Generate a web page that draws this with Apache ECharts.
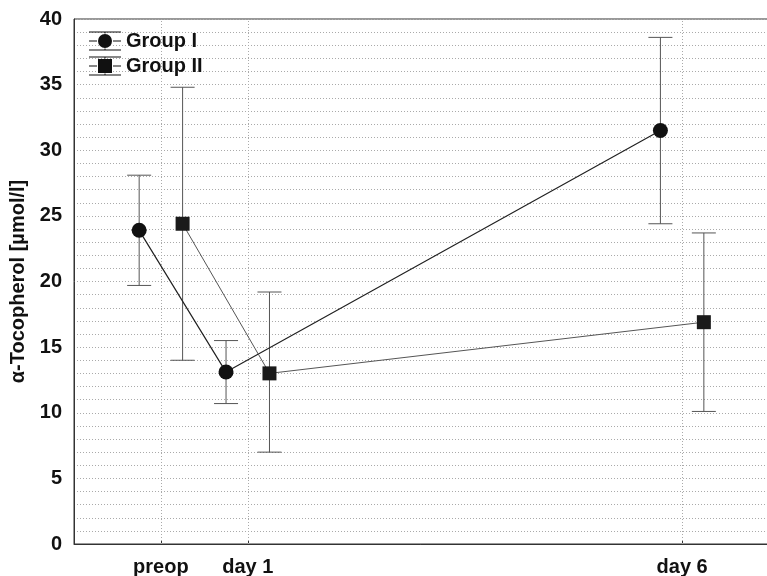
<!DOCTYPE html>
<html>
<head>
<meta charset="utf-8">
<script src="https://cdn.jsdelivr.net/npm/echarts@6/dist/echarts.min.js"></script>
<style>
  html, body { margin: 0; padding: 0; background: #fff; }
  #chart { width: 767px; height: 576px; }
</style>
</head>
<body>
<div id="chart"></div>
<script>
// time points (preop = 0, day 1 = 1, day 6 = 6)
var timeNames = ['preop', 'day 1', 'day 6'];
var timeValues = [0, 1, 6];

var group1Mean = [23.9, 13.1, 31.5];
var group1Low = [19.7, 10.7, 24.4];
var group1High = [28.1, 15.5, 38.6];

var group2Mean = [24.4, 13.0, 16.9];
var group2Low = [14.0, 7.0, 10.1];
var group2High = [34.8, 19.2, 23.7];

var SHIFT = 0.25; // groups drawn side by side

var chart = echarts.init(document.getElementById('chart'));

function pts(mean, off) {
  return mean.map(function(v, i) { return [timeValues[i] + off, v]; });
}
function bars(low, high, off) {
  return low.map(function(v, i) { return [timeValues[i] + off, v, high[i]]; });
}

function renderBar(params, api) {
  var lo = api.coord([api.value(0), api.value(1)]);
  var hi = api.coord([api.value(0), api.value(2)]);
  var w = 12;
  var st = { stroke: '#555', lineWidth: 1 };
  return {
    type: 'group',
    children: [
      { type: 'line', shape: { x1: lo[0], y1: lo[1], x2: hi[0], y2: hi[1] }, style: st },
      { type: 'line', shape: { x1: lo[0] - w, y1: lo[1], x2: lo[0] + w, y2: lo[1] }, style: st },
      { type: 'line', shape: { x1: hi[0] - w, y1: hi[1], x2: hi[0] + w, y2: hi[1] }, style: st }
    ]
  };
}

// legend icon: marker with error bar and caps
var bar = 'M0,0H32V1H0Z M0,18H32V19H0Z M0,9H8V10H0Z M24,9H32V10H24Z M15.5,0H16.5V2H15.5Z M15.5,17H16.5V19H15.5Z ';
var iconCircle = 'path://' + bar + 'M9,9.5A7,7 0 1,0 23,9.5A7,7 0 1,0 9,9.5Z';
var iconSquare = 'path://' + bar + 'M9,2.5H23V16.5H9Z';

var font = 'Liberation Sans, Arial, sans-serif';

chart.setOption({
  animation: false,
  backgroundColor: '#fff',
  grid: {
    left: 74, right: -2, top: 19, bottom: 32,
    outerBoundsMode: 'none',
    show: true, borderColor: '#333', borderWidth: 1, backgroundColor: 'transparent'
  },
  legend: {
    left: 84, top: 26, orient: 'vertical',
    itemWidth: 32, itemHeight: 19, itemGap: 5,
    textStyle: { fontFamily: font, fontWeight: 'bold', fontSize: 20, color: '#111' },
    data: [
      { name: 'Group I', icon: iconCircle, itemStyle: { color: '#111' } },
      { name: 'Group II', icon: iconSquare, itemStyle: { color: '#111' } }
    ]
  },
  xAxis: {
    type: 'value', min: -1, max: 7, interval: 1,
    axisLine: { show: true, onZero: false, lineStyle: { color: '#333', width: 1 } },
    axisTick: { show: true, inside: true, length: 4, customValues: timeValues, lineStyle: { color: '#333' } },
    axisLabel: {
      customValues: timeValues,
      formatter: function(v) { var i = timeValues.indexOf(v); return i >= 0 ? timeNames[i] : ''; },
      fontFamily: font, fontWeight: 'bold', fontSize: 20, color: '#111', margin: 13
    },
    splitLine: { show: false }
  },
  yAxis: {
    type: 'value', min: 0, max: 40, interval: 5,
    name: 'α-Tocopherol [µmol/l]', nameLocation: 'middle', nameGap: 42,
    nameTextStyle: { fontFamily: font, fontWeight: 'bold', fontSize: 20, color: '#111' },
    axisLine: { show: true, onZero: false, lineStyle: { color: '#333', width: 1 } },
    axisTick: { show: false },
    axisLabel: { fontFamily: font, fontWeight: 'bold', fontSize: 20, color: '#111', margin: 12 },
    splitLine: { show: true, lineStyle: { color: '#aaa', type: [1, 2], width: 1 } },
    minorTick: { show: false, splitNumber: 5 },
    minorSplitLine: { show: true, lineStyle: { color: '#aaa', type: [1, 2], width: 1 } }
  },
  series: [
    {
      type: 'line', name: 'vgrid', silent: true, data: [],
      markLine: {
        silent: true, symbol: 'none', label: { show: false },
        lineStyle: { color: '#aaa', type: [1, 2], width: 1 },
        data: timeValues.map(function(v) { return { xAxis: v }; })
      }
    },
    {
      type: 'custom', name: 'Group I', renderItem: renderBar,
      data: bars(group1Low, group1High, -SHIFT), z: 3
    },
    {
      type: 'custom', name: 'Group II', renderItem: renderBar,
      data: bars(group2Low, group2High, SHIFT), z: 3
    },
    {
      type: 'line', name: 'Group I', data: pts(group1Mean, -SHIFT),
      symbol: 'circle', symbolSize: 15, z: 5,
      itemStyle: { color: '#111' },
      lineStyle: { color: '#222', width: 1.2 }
    },
    {
      type: 'line', name: 'Group II', data: pts(group2Mean, SHIFT),
      symbol: 'rect', symbolSize: 14, z: 5,
      itemStyle: { color: '#1a1a1a' },
      lineStyle: { color: '#555', width: 1 }
    }
  ]
});
</script>
</body>
</html>
